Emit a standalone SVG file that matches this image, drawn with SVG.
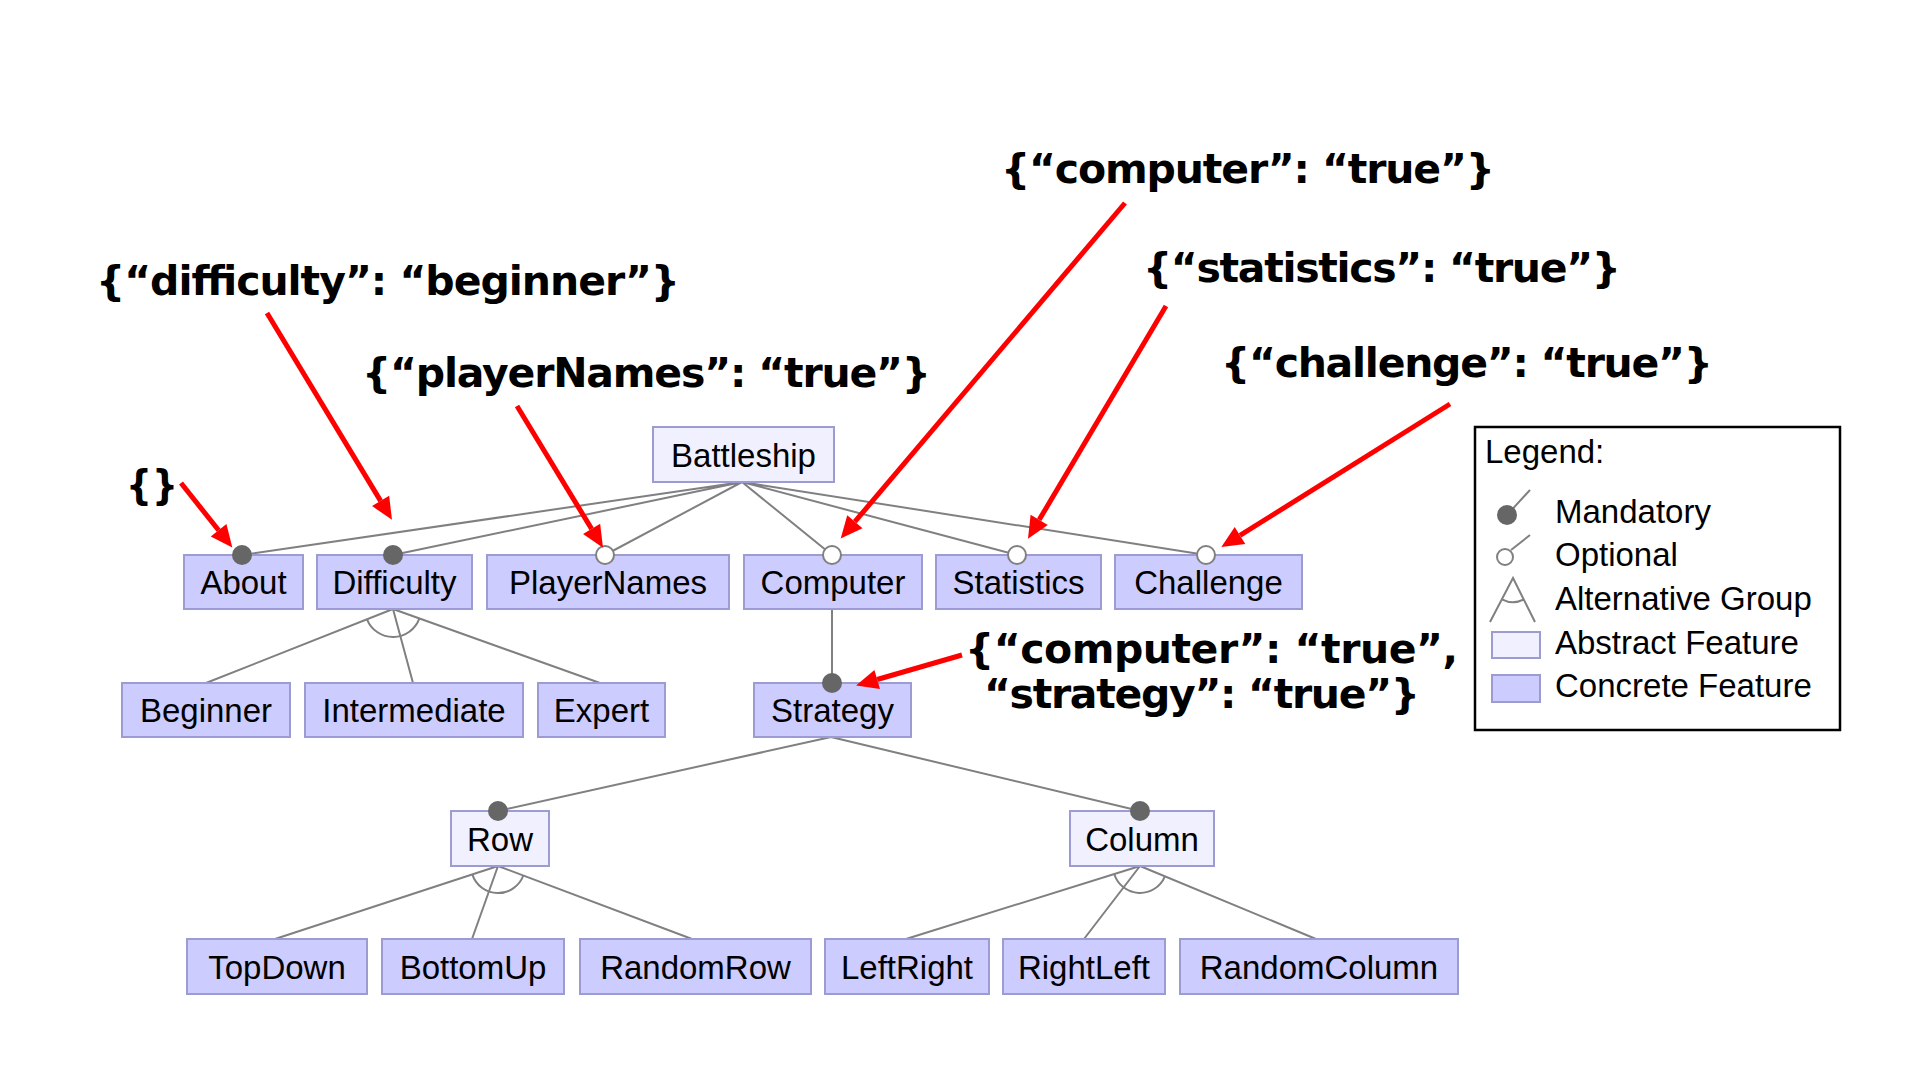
<svg xmlns="http://www.w3.org/2000/svg" width="1920" height="1080" viewBox="0 0 1920 1080">
<defs>
<style>
.c{fill:#ccccff;stroke:#9c9cd2;stroke-width:2}
.a{fill:#f0f0ff;stroke:#9c9cd2;stroke-width:2}
.t{font-family:"Liberation Sans",Arial,sans-serif;font-size:33px;fill:#000;text-anchor:middle}
.lt{font-family:"Liberation Sans",Arial,sans-serif;font-size:33px;fill:#000}
.e{stroke:#808080;stroke-width:2;fill:none}
.m{fill:#666666}
.o{fill:#ffffff;stroke:#808080;stroke-width:2}
.ann{font-family:"DejaVu Sans","Noto Sans",sans-serif;font-weight:bold;font-size:41px;fill:#000}
.r{stroke:#ff0000;stroke-width:5;fill:none;marker-end:url(#ah)}
</style>
<marker id="ah" markerUnits="userSpaceOnUse" markerWidth="24" markerHeight="22" viewBox="0 0 24 22" refX="0" refY="10" orient="auto" overflow="visible">
<path d="M0,0 L22,10 L0,20 z" fill="#ff0000"/>
</marker>
</defs>
<rect width="1920" height="1080" fill="#ffffff"/>

<g id="connectors">
<path class="e" d="M742,482 L242,555 M742,482 L393,555 M742,482 L605,555 M742,482 L832,555 M742,482 L1017,555 M742,482 L1206,555"/>
<path class="e" d="M393,609 L206,683 M393,609 L413,683 M393,609 L600,683"/>
<path class="e" d="M367,619.3 A28,28 0 0,0 419.4,618.4"/>
<path class="e" d="M832,609 L832,683"/>
<path class="e" d="M831,737 L498,811 M831,737 L1140,811"/>
<path class="e" d="M498,866 L275,939 M498,866 L472,939 M498,866 L692,939"/>
<path class="e" d="M472.3,874.4 A27,27 0 0,0 523.3,875.5"/>
<path class="e" d="M1140,866 L906,939 M1140,866 L1084,939 M1140,866 L1316,939"/>
<path class="e" d="M1114.2,874 A27,27 0 0,0 1164.9,876.3"/>
</g>

<g id="node-battleship"><rect class="a" x="653" y="427" width="181" height="55"/><text class="t" x="743.5" y="467">Battleship</text></g>
<g id="node-about"><rect class="c" x="184" y="555" width="119" height="54"/><text class="t" x="243.5" y="594">About</text></g>
<g id="node-difficulty"><rect class="c" x="317" y="555" width="155" height="54"/><text class="t" x="394.5" y="594">Difficulty</text></g>
<g id="node-playernames"><rect class="c" x="487" y="555" width="242" height="54"/><text class="t" x="608" y="594">PlayerNames</text></g>
<g id="node-computer"><rect class="c" x="744" y="555" width="178" height="54"/><text class="t" x="833" y="594">Computer</text></g>
<g id="node-statistics"><rect class="c" x="936" y="555" width="165" height="54"/><text class="t" x="1018.5" y="594">Statistics</text></g>
<g id="node-challenge"><rect class="c" x="1115" y="555" width="187" height="54"/><text class="t" x="1208.5" y="594">Challenge</text></g>
<g id="node-beginner"><rect class="c" x="122" y="683" width="168" height="54"/><text class="t" x="206" y="722">Beginner</text></g>
<g id="node-intermediate"><rect class="c" x="305" y="683" width="218" height="54"/><text class="t" x="414" y="722">Intermediate</text></g>
<g id="node-expert"><rect class="c" x="538" y="683" width="127" height="54"/><text class="t" x="601.5" y="722">Expert</text></g>
<g id="node-strategy"><rect class="c" x="754" y="683" width="157" height="54"/><text class="t" x="832.5" y="722">Strategy</text></g>
<g id="node-row"><rect class="a" x="451" y="811" width="98" height="55"/><text class="t" x="500" y="851">Row</text></g>
<g id="node-column"><rect class="a" x="1070" y="811" width="144" height="55"/><text class="t" x="1142" y="851">Column</text></g>
<g id="node-topdown"><rect class="c" x="187" y="939" width="180" height="55"/><text class="t" x="277" y="979">TopDown</text></g>
<g id="node-bottomup"><rect class="c" x="382" y="939" width="182" height="55"/><text class="t" x="473" y="979">BottomUp</text></g>
<g id="node-randomrow"><rect class="c" x="580" y="939" width="231" height="55"/><text class="t" x="695.5" y="979">RandomRow</text></g>
<g id="node-leftright"><rect class="c" x="825" y="939" width="164" height="55"/><text class="t" x="907" y="979">LeftRight</text></g>
<g id="node-rightleft"><rect class="c" x="1003" y="939" width="162" height="55"/><text class="t" x="1084" y="979">RightLeft</text></g>
<g id="node-randomcolumn"><rect class="c" x="1180" y="939" width="278" height="55"/><text class="t" x="1319" y="979">RandomColumn</text></g>

<g id="decorators">
<circle class="m" cx="242" cy="555" r="10"/>
<circle class="m" cx="393" cy="555" r="10"/>
<circle class="o" cx="605" cy="555" r="9"/>
<circle class="o" cx="832" cy="555" r="9"/>
<circle class="o" cx="1017" cy="555" r="9"/>
<circle class="o" cx="1206" cy="555" r="9"/>
<circle class="m" cx="832" cy="683" r="10"/>
<circle class="m" cx="498" cy="811" r="10"/>
<circle class="m" cx="1140" cy="811" r="10"/>
</g>

<g id="legend">
<rect x="1475" y="427" width="365" height="303" fill="#ffffff" stroke="#000000" stroke-width="2.5"/>
<text class="lt" x="1485" y="463">Legend:</text>
<line class="e" x1="1507" y1="515" x2="1530" y2="490"/>
<circle class="m" cx="1507" cy="515" r="10"/>
<text class="lt" x="1555" y="523">Mandatory</text>
<line class="e" x1="1511" y1="550" x2="1530" y2="535"/>
<circle class="o" cx="1505" cy="557" r="8"/>
<text class="lt" x="1555" y="566">Optional</text>
<path class="e" d="M1490,622 L1513,578 L1535,622 M1501.9,599.3 A24,24 0 0,0 1523.7,599.5"/>
<text class="lt" x="1555" y="610">Alternative Group</text>
<rect class="a" x="1492" y="632" width="48" height="26"/>
<text class="lt" x="1555" y="654">Abstract Feature</text>
<rect class="c" x="1492" y="675" width="48" height="27"/>
<text class="lt" x="1555" y="697">Concrete Feature</text>
</g>

<g id="annotations">
<text class="ann" x="126" y="499" font-size="54" textLength="52" lengthAdjust="spacingAndGlyphs">{}</text>
<text class="ann" x="96" y="295" textLength="584">{“difficulty”: “beginner”}</text>
<text class="ann" x="362" y="387" textLength="569">{“playerNames”: “true”}</text>
<text class="ann" x="1001" y="183" textLength="494">{“computer”: “true”}</text>
<text class="ann" x="1143" y="282" textLength="478">{“statistics”: “true”}</text>
<text class="ann" x="1221" y="377" textLength="492">{“challenge”: “true”}</text>
<text class="ann" x="965" y="663" textLength="493">{“computer”: “true”,</text>
<text class="ann" x="984" y="708" textLength="436">“strategy”: “true”}</text>
</g>

<g id="arrows">
<line class="r" x1="181" y1="483" x2="218.6" y2="530.3"/>
<line class="r" x1="267" y1="313" x2="380.6" y2="500.9"/>
<line class="r" x1="517" y1="406" x2="591.6" y2="528.9"/>
<line class="r" x1="1125" y1="203" x2="854.9" y2="521.7"/>
<line class="r" x1="1166" y1="306" x2="1039.2" y2="519.8"/>
<line class="r" x1="1450" y1="404" x2="1240" y2="535.4"/>
<line class="r" x1="962" y1="655" x2="877.2" y2="679.5"/>
</g>
</svg>
